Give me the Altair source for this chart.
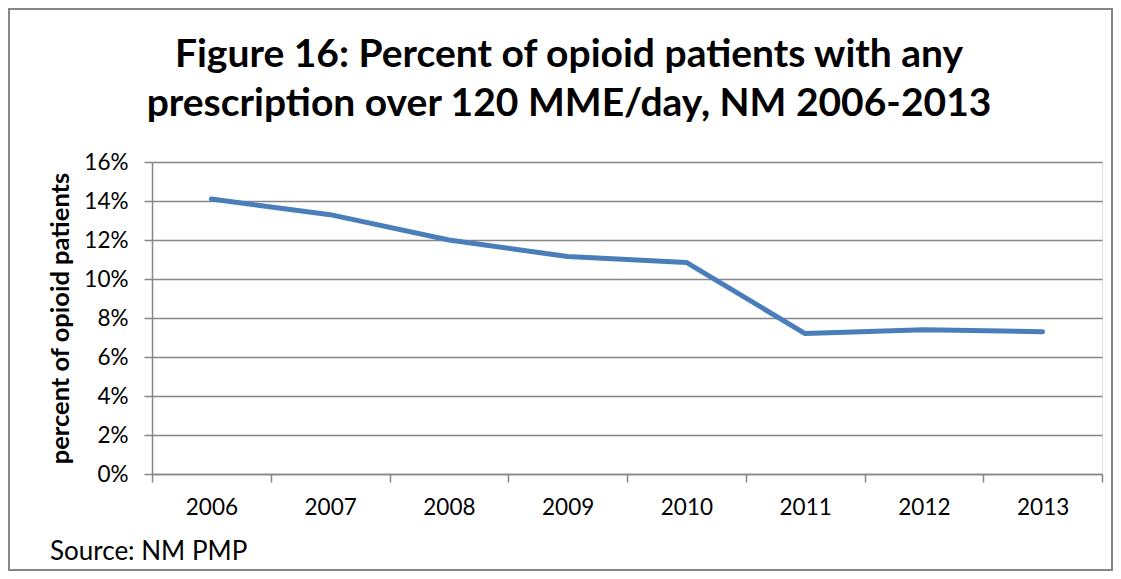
import altair as alt
import pandas as pd

years = ["2006", "2007", "2008", "2009", "2010", "2011", "2012", "2013"]
pct = [0.141, 0.133, 0.120, 0.1115, 0.1085, 0.072, 0.074, 0.073]
y_ticks = [0, 0.02, 0.04, 0.06, 0.08, 0.10, 0.12, 0.14, 0.16]
title_lines = ["Figure 16: Percent of opioid patients with any",
               "prescription over 120 MME/day, NM 2006-2013"]
y_title = "percent of opioid patients"
source_note = "Source: NM PMP"

df = pd.DataFrame({"year": years, "pct": pct})

W, H = 950, 312
FONT = "Lato"
GRAY = "#868686"

base = alt.Chart(df)

line = base.mark_line(color="#4a7ebb", strokeWidth=5, strokeCap="round", strokeJoin="round").encode(
    x=alt.X("year:O", title=None, bandPosition=0.5,
            scale=alt.Scale(type="band", paddingInner=0, paddingOuter=0),
            axis=alt.Axis(tickBand="extent", labelAngle=0, grid=False,
                          domainColor=GRAY, domainWidth=1.5, tickColor=GRAY,
                          tickWidth=1.5, tickSize=8, labelPadding=14,
                          labelFontSize=22.5, labelFont=FONT, labelColor="black")),
    y=alt.Y("pct:Q", scale=alt.Scale(domain=[0, 0.16], nice=False),
            axis=alt.Axis(values=y_ticks, format=".0%", title=y_title,
                          grid=True, gridColor=GRAY, gridWidth=1.5,
                          domainColor=GRAY, domainWidth=1.5, tickColor=GRAY,
                          tickWidth=1.5, tickSize=8, labelPadding=16,
                          labelFontSize=22.5, labelFont=FONT, labelColor="black",
                          titleFont=FONT, titleFontSize=25.5, titleFontWeight="bold",
                          titleColor="black", titleX=-92, titleY=H / 2,
                          titleAngle=270, titleAlign="center", titleBaseline="middle")),
)

border = base.mark_rect(fill=None, stroke=GRAY, strokeWidth=2).encode(
    x=alt.value(-143), x2=alt.value(W + 10),
    y=alt.value(-153), y2=alt.value(H + 96),
)

note = alt.Chart(pd.DataFrame({"t": [source_note]})).mark_text(
    align="left", baseline="alphabetic", font=FONT, fontSize=26, color="black"
).encode(text="t:N", x=alt.value(-102), y=alt.value(398))

chart = alt.layer(border, line, note).properties(
    width=W, height=H,
    title=alt.TitleParams(title_lines, anchor="middle", frame="group", dx=-58,
                          offset=0, dy=147, baseline="alphabetic",
                          font=FONT, fontSize=39, fontWeight="bold",
                          color="black", lineHeight=49),
    autosize=alt.AutoSizeParams(type="none"),
    padding={"left": 144, "top": 154, "right": 11, "bottom": 97},
).configure_view(strokeWidth=0).configure(background="white")

chart.save("out.html", embed_options={"renderer": "svg", "actions": False})
